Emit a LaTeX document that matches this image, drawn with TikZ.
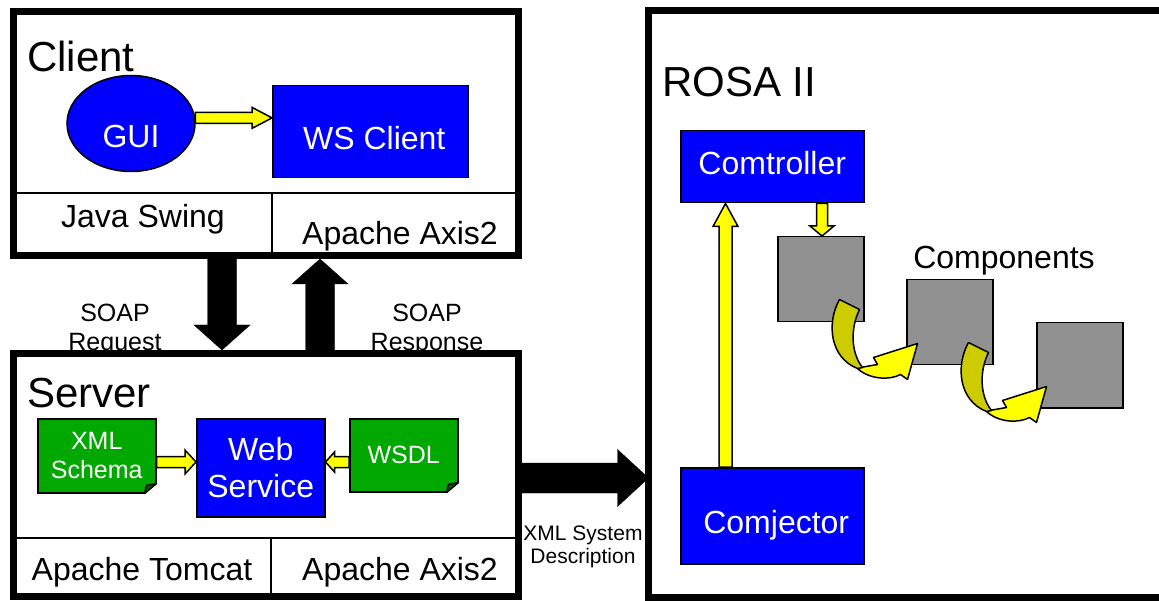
\documentclass[tikz,border=0pt]{standalone}
\usepackage{fontspec}
\setmainfont{Liberation Sans}
\usetikzlibrary{calc,positioning,shapes.geometric}

\definecolor{boxblue}{RGB}{0,0,255}
\definecolor{docgreen}{RGB}{0,168,0}
\definecolor{docdark}{RGB}{0,100,0}
\definecolor{compgray}{RGB}{145,145,145}
\definecolor{flowyellow}{RGB}{255,255,0}
\definecolor{backyellow}{RGB}{204,204,0}

\newcommand\bigfont{\fontsize{42}{48}\selectfont}
\newcommand\midfont{\fontsize{32}{37}\selectfont}
\newcommand\smallfont{\fontsize{25}{29}\selectfont}
\newcommand\tinyfont{\fontsize{21}{23}\selectfont}

% block arrow: style, from, to, shaft half width, head half width, head length
\newcommand\blockarrow[6]{%
  \coordinate (ba-s) at (#2);
  \coordinate (ba-t) at (#3);
  \coordinate (ba-h) at ($(ba-t)!#6!(ba-s)$);
  \draw[#1] ($(ba-s)!#4!90:(ba-t)$) -- ($(ba-h)!#4!90:(ba-t)$) -- ($(ba-h)!#5!90:(ba-t)$)
    -- (ba-t) -- ($(ba-h)!#5!-90:(ba-t)$) -- ($(ba-h)!#4!-90:(ba-t)$)
    -- ($(ba-s)!#4!-90:(ba-t)$) -- cycle;}

% white cut and fold at the lower right corner of a document
\newcommand\docfold[1]{%
  \fill[white] ($(#1.south east)+(2,-11)$) -- ($(#1.south east)+(2,2)$) -- ($(#1.south east)+(-13,2)$) -- cycle;
  \filldraw[fill=docdark, line width=1.5pt, line join=round] ($(#1.south east)+(0,-10)$)
    -- ($(#1.south east)+(-10,-8)$) -- ($(#1.south east)+(-12,0)$) -- cycle;}

\begin{document}
\begin{tikzpicture}[x=1pt, y=-1pt,
  bigbox/.style={draw, line width=7pt, inner sep=0pt, anchor=north west},
  bluebox/.style={draw, fill=boxblue, line width=1.5pt, text=white, font=\midfont, inner sep=0pt, anchor=north west},
  boxlabel/.style={text=white, font=\midfont, inner sep=0pt},
  docbox/.style={draw, fill=docgreen, line width=1.5pt, text=white, font=\smallfont, align=center, inner sep=0pt, anchor=north west},
  graybox/.style={draw, fill=compgray, line width=1.5pt, minimum width=86, minimum height=85, anchor=north west},
  lbl/.style={inner sep=0pt, anchor=base},
  divider/.style={line width=2.5pt},
  barrow/.style={fill=black},
  yarrow/.style={fill=flowyellow, draw=black, line width=1.5pt, line join=miter},
  bendarrow/.style={draw=black, line width=1.5pt, line join=round}]
\useasboundingbox (0,0) rectangle (1159,601);

% labels under the server border
\node[lbl, anchor=center, align=center, font=\smallfont] (reqlbl) at (115,330) {SOAP\\Request};
\node[lbl, anchor=center, align=center, font=\smallfont] (reslbl) at (427,330) {SOAP\\Response};
\node[lbl, anchor=center, align=center, font=\tinyfont] (desclbl) at (583,547) {XML System\\Description};

% client
\node[bigbox, minimum width=505, minimum height=244] (client) at (10,8) {};
\draw[divider] (client.west |- 0,193) -- (client.east |- 0,193);
\draw[divider] (272,193) -- (client.south -| 272,0);
\node[lbl, anchor=base west, font=\bigfont] (clientlbl) at (27,72) {Client};
\node[lbl, font=\midfont] (swing) at (143,228) {Java Swing};
\node[lbl, font=\midfont] (caxis) at (400,245) {Apache Axis2};
\node[bluebox, ellipse, anchor=center, minimum width=128, minimum height=96,
  label={[boxlabel, yshift=-13pt]center:GUI}] (gui) at (131,123.5) {};
\node[bluebox, minimum width=195, minimum height=92,
  label={[boxlabel, xshift=4pt, yshift=-6pt]center:WS Client}] (wsc) at (272,85) {};
\blockarrow{yarrow}{gui.5}{wsc.west |- gui.5}{5.5pt}{10.5pt}{20pt}

% server
\node[bigbox, minimum width=505, minimum height=243] (server) at (10,350) {};
\draw[divider] (server.west |- 0,538) -- (server.east |- 0,538);
\draw[divider] (271,538) -- (server.south -| 271,0);
\node[lbl, anchor=base west, font=\bigfont] (serverlbl) at (27,407) {Server};
\node[lbl, font=\midfont] (tomcat) at (142,580) {Apache Tomcat};
\node[lbl, font=\midfont] (saxis) at (400,580) {Apache Axis2};
\node[docbox, minimum width=118, minimum height=74] (xsd) at (37,418) {XML\\Schema};
\node[bluebox, align=center, minimum width=128, minimum height=98] (websvc) at (196,418) {Web\\Service};
\node[docbox, minimum width=108, minimum height=73] (wsdl) at (349,418) {WSDL};
\docfold{xsd}
\docfold{wsdl}
\coordinate (schy) at (0,462);
\blockarrow{yarrow}{xsd.east |- schy}{websvc.west |- schy}{5.5pt}{12pt}{11pt}
\blockarrow{yarrow}{wsdl.west |- schy}{websvc.east |- schy}{5.5pt}{10pt}{9pt}

% soap traffic
\coordinate (reqx) at (222,0);
\coordinate (resx) at (320,0);
\blockarrow{barrow}{reqx |- client.south}{reqx |- server.north}{14.5pt}{28pt}{25pt}
\blockarrow{barrow}{resx |- server.north}{resx |- client.south}{14.5pt}{28pt}{25pt}

% rosa, open to the right
\node[bigbox, draw=none, outer sep=0pt, minimum width=510.5, minimum height=587] (rosa) at (648.5,10.5) {};
\draw[line width=7pt] (rosa.north east) -- (rosa.north west) -- (rosa.south west) -- (rosa.south east);
\node[lbl, anchor=base west, font=\bigfont] (rosalbl) at (662,97) {ROSA II};
\node[bluebox, minimum width=183, minimum height=72,
  label={[boxlabel, yshift=4pt]center:Comtroller}] (comt) at (680,130) {};
\node[bluebox, minimum width=183, minimum height=96,
  label={[boxlabel, xshift=4pt, yshift=-9pt]center:Comjector}] (comj) at (680,467) {};
\foreach \i/\x/\y in {1/777/236, 2/906/279, 3/1036/322}
  \node[graybox] (comp\i) at (\x,\y) {};
\node[lbl, font=\midfont] (complbl) at (1004,269) {Components};
\coordinate (upx) at (725.5,0);
\coordinate (dnx) at (822,0);
\blockarrow{yarrow}{upx |- comj.north}{upx |- comt.south}{6.5pt}{12.5pt}{23pt}
\blockarrow{yarrow}{dnx |- comt.south}{dnx |- comp1.north}{5.5pt}{12pt}{10pt}
\foreach \c in {1,2}{
  \begin{scope}[shift={(comp\c.south east)}]
    \filldraw[bendarrow, fill=flowyellow] (-4,45) -- (13,42) -- (9,35) -- (53,21) -- (43,57) -- (36,52)
      .. controls (25,58) and (5,57) .. (-7,46) -- cycle;
    \filldraw[bendarrow, fill=backyellow] (-25,-23) -- (-5,-13) .. controls (-14,5) and (-14,30) .. (-2,45)
      -- (-7,46) .. controls (-35,35) and (-38,0) .. (-25,-23) -- cycle;
  \end{scope}
}

% system description
\coordinate (descy) at (0,478);
\blockarrow{barrow}{server.east |- descy}{rosa.west |- descy}{15pt}{28.5pt}{31pt}
\end{tikzpicture}
\end{document}
